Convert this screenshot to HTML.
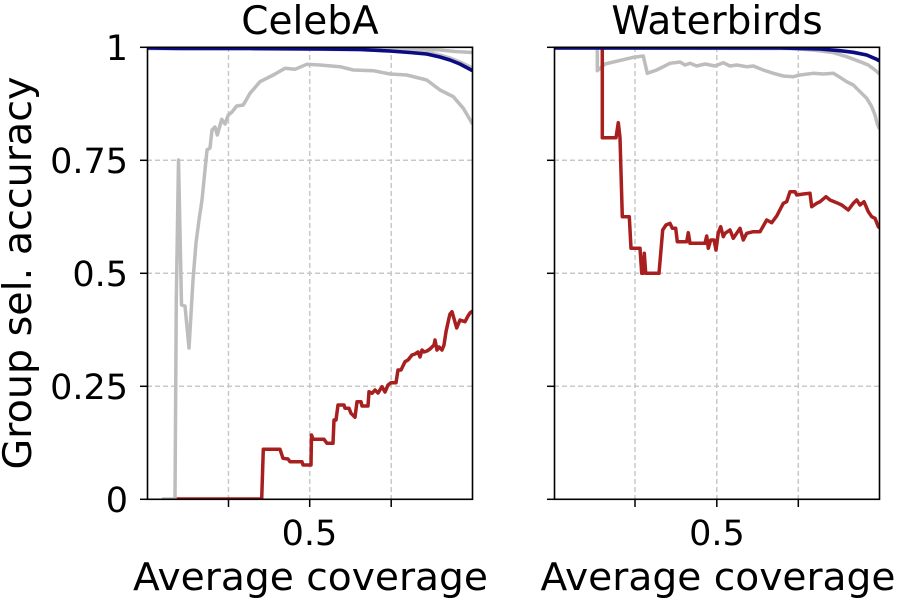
<!DOCTYPE html>
<html>
<head>
<meta charset="utf-8">
<style>
  html,body{margin:0;padding:0;background:#fff;}
  svg{display:block;}
  text{font-family:"DejaVu Sans","Liberation Sans",sans-serif;fill:#000;}
</style>
</head>
<body>
<svg width="900" height="600" viewBox="0 0 900 600" xmlns="http://www.w3.org/2000/svg">
  <defs>
    <clipPath id="cL"><rect x="147.5" y="47.3" width="325" height="452"/></clipPath>
    <clipPath id="cR"><rect x="554.5" y="47.3" width="325" height="452"/></clipPath>
  </defs>

  <!-- Titles -->
  <text x="310" y="34" font-size="39" text-anchor="middle">CelebA</text>
  <text x="717" y="34" font-size="39" text-anchor="middle">Waterbirds</text>

  <!-- Y label -->
  <text transform="translate(31,273) rotate(-90)" font-size="39" text-anchor="middle" textLength="393" lengthAdjust="spacingAndGlyphs">Group sel. accuracy</text>

  <!-- Y tick labels -->
  <g font-size="35" text-anchor="end">
    <text x="128" y="60">1</text>
    <text x="128" y="173">0.75</text>
    <text x="128" y="286">0.5</text>
    <text x="128" y="399">0.25</text>
    <text x="128" y="512">0</text>
  </g>

  <!-- X tick labels -->
  <text x="309.5" y="545" font-size="35" text-anchor="middle">0.5</text>
  <text x="717" y="545" font-size="35" text-anchor="middle">0.5</text>

  <!-- X labels -->
  <text x="310.5" y="590" font-size="38" text-anchor="middle" textLength="355" lengthAdjust="spacingAndGlyphs">Average coverage</text>
  <text x="718" y="590" font-size="38" text-anchor="middle" textLength="355" lengthAdjust="spacingAndGlyphs">Average coverage</text>

  <!-- LEFT PANEL -->
  <g clip-path="url(#cL)">
    <g stroke="#c8c8c8" stroke-width="1.5" stroke-dasharray="5,3" fill="none">
      <line x1="228.5" y1="47" x2="228.5" y2="500"/>
      <line x1="309.7" y1="47" x2="309.7" y2="500"/>
      <line x1="391.2" y1="47" x2="391.2" y2="500"/>
      <line x1="147" y1="160.3" x2="473" y2="160.3"/>
      <line x1="147" y1="273.3" x2="473" y2="273.3"/>
      <line x1="147" y1="386.3" x2="473" y2="386.3"/>
    </g>
    <g fill="none" stroke-linejoin="round" stroke-linecap="butt">
      <polyline stroke="#bdbdbd" stroke-width="3.5" points="147.5,47.8 390,48.5 420,49 440,50 455,51.5 472.5,52.5"/>
      <polyline stroke="#c4c4c4" stroke-width="5.5" points="147.5,47.6 250,47.8 320,48.2 360,48.7 390,50 410,51.5 426.7,53 440,56 450,59 460,63 472.5,69"/>
      <polyline stroke="#bdbdbd" stroke-width="3.5" points="162,499 175,499 176.3,300 178.5,160 181.5,305 185,306 189,348 193,280 196,243 199,220 202,200 204,180 207,150 210,148 212,130 215,127 217.3,135 221.7,119.3 225,124 228.3,115 232,112 236.7,106 243.3,105 250,93.3 260,81.7 273.3,75 285,68.3 295,69.3 306.7,64.3 320,65 340,66.7 353.3,70 373.3,70.7 390,74 406.7,75 426.7,80 440,90 453.3,96.7 463.3,108.3 472.5,124"/>
      <polyline stroke="#a81f1f" stroke-width="3.5" points="176.7,499 261.7,499 263.3,449.3 280,449.3 283,458.3 288,459 290,461.7 302,461.7 303,465 311,465 311.5,435 313,439.3 324,439.3 327,443.3 333,443.3 334,420 336,420 338,405 344,405 345,408.3 349,408.3 351,413.3 355,417.3 357,401.7 361,401.7 362,406 368,406 369,391.7 372,393.3 375,390 378,393 382,386.7 385,392 388,385 391,382.7 396,382.7 398,370 401,370 405,361.7 408,360 412,355 415,354 418,352 420,357 422,350 424,352 427,351 430,349 434,345 435,340 437,350 439,347 442,350 444,345 446,331.7 449,318 450,314 452,311.7 456.7,328 460,320 465,321.7 468,316 470,313 472.5,311"/>
      <polyline stroke="#0b0b85" stroke-width="3.6" points="147.5,48 180,48.5 250,48.5 320,49 360,49.5 390,51 410,52.5 426.7,54 440,57 450,60 460,64 472.5,70.7"/>
    </g>
  </g>
  <!-- left spines & ticks -->
  <rect x="147.5" y="47.3" width="325" height="452" fill="none" stroke="#000" stroke-width="1.6"/>
  <g stroke="#000" stroke-width="1.5">
    <line x1="140" y1="47.3" x2="147.5" y2="47.3"/>
    <line x1="140" y1="160.3" x2="147.5" y2="160.3"/>
    <line x1="140" y1="273.3" x2="147.5" y2="273.3"/>
    <line x1="140" y1="386.3" x2="147.5" y2="386.3"/>
    <line x1="140" y1="499.3" x2="147.5" y2="499.3"/>
    <line x1="228.5" y1="499.3" x2="228.5" y2="507"/>
    <line x1="309.7" y1="499.3" x2="309.7" y2="507"/>
    <line x1="391.2" y1="499.3" x2="391.2" y2="507"/>
  </g>

  <!-- RIGHT PANEL -->
  <g clip-path="url(#cR)">
    <g stroke="#c8c8c8" stroke-width="1.5" stroke-dasharray="5,3" fill="none">
      <line x1="635" y1="47" x2="635" y2="500"/>
      <line x1="716.8" y1="47" x2="716.8" y2="500"/>
      <line x1="798.3" y1="47" x2="798.3" y2="500"/>
      <line x1="554" y1="160.3" x2="880" y2="160.3"/>
      <line x1="554" y1="273.3" x2="880" y2="273.3"/>
      <line x1="554" y1="386.3" x2="880" y2="386.3"/>
    </g>
    <g fill="none" stroke-linejoin="round">
      <polyline stroke="#bdbdbd" stroke-width="3.5" points="554.5,48 790,48.5 813.3,50 833.3,52.7 846.7,56.7 860,61.7 868.3,65 875,70 879.5,74"/>
      <polyline stroke="#bdbdbd" stroke-width="3.5" points="554.5,47.8 597.3,47.8 597.3,70.7 605,64 633.3,57.3 643.3,56 647.3,73.3 656.7,70 670,63.3 680,62 685,65 690,63.3 696.7,66 705,64 715,66 723.3,62.7 730,66 736.7,65 746.7,66.7 753.3,66 763.3,70 773.3,73.3 783.3,76 793.3,76.7 800,75 813.3,73.3 823.3,74 833.3,73.3 840,77.3 846.7,81.7 853.3,85 860,91.7 866.7,98.3 871.7,106.7 875,115 877.3,124 879.5,129"/>
      <polyline stroke="#a81f1f" stroke-width="3.5" points="602.3,46 602.3,137.7 616,137.7 618.3,122.7 620,137.7 622.3,216.7 629.3,216.7 631,248.3 640,248.3 641.7,273.3 643.3,273.3 644.3,253.3 645.7,273.3 659,273.3 662.7,230 666,225 670,223.3 672.3,228.3 675.7,228.3 677.3,241.7 686.7,241.7 688.3,232.7 690,243.3 705,243.3 706.7,236 708.3,248.3 710.7,240 714,240 716,250 718.3,232.7 720.7,226.7 723.3,236.7 725,233.3 730,230 733.3,238.3 740,228.3 743.3,240 746.7,233.3 753.3,231.7 760,231.7 766.7,220 771.7,222.7 776.7,216 783.3,203.3 786.7,201.7 790,191.7 795,191.7 796.7,195 803.3,194 810,193.3 811.7,206.7 816.7,203.3 820,201.7 826,196.7 830,200 836.7,202.7 841.7,205 848.3,210 853.3,203.3 856.7,200 860,205 864,201.7 868.3,211.7 871.7,216.7 875,218.3 878.3,226.7 879.5,228"/>
      <polyline stroke="#0b0b85" stroke-width="3.6" points="554.5,48 780,48 800,48.5 820,49 840,50.7 853.3,52.3 866.7,55 876.7,59.3 879.5,61"/>
    </g>
  </g>
  <!-- right spines & ticks -->
  <rect x="554.5" y="47.3" width="325" height="452" fill="none" stroke="#000" stroke-width="1.6"/>
  <g stroke="#000" stroke-width="1.5">
    <line x1="547" y1="47.3" x2="554.5" y2="47.3"/>
    <line x1="547" y1="160.3" x2="554.5" y2="160.3"/>
    <line x1="547" y1="273.3" x2="554.5" y2="273.3"/>
    <line x1="547" y1="386.3" x2="554.5" y2="386.3"/>
    <line x1="547" y1="499.3" x2="554.5" y2="499.3"/>
    <line x1="635" y1="499.3" x2="635" y2="507"/>
    <line x1="716.8" y1="499.3" x2="716.8" y2="507"/>
    <line x1="798.3" y1="499.3" x2="798.3" y2="507"/>
  </g>
</svg>
</body>
</html>
